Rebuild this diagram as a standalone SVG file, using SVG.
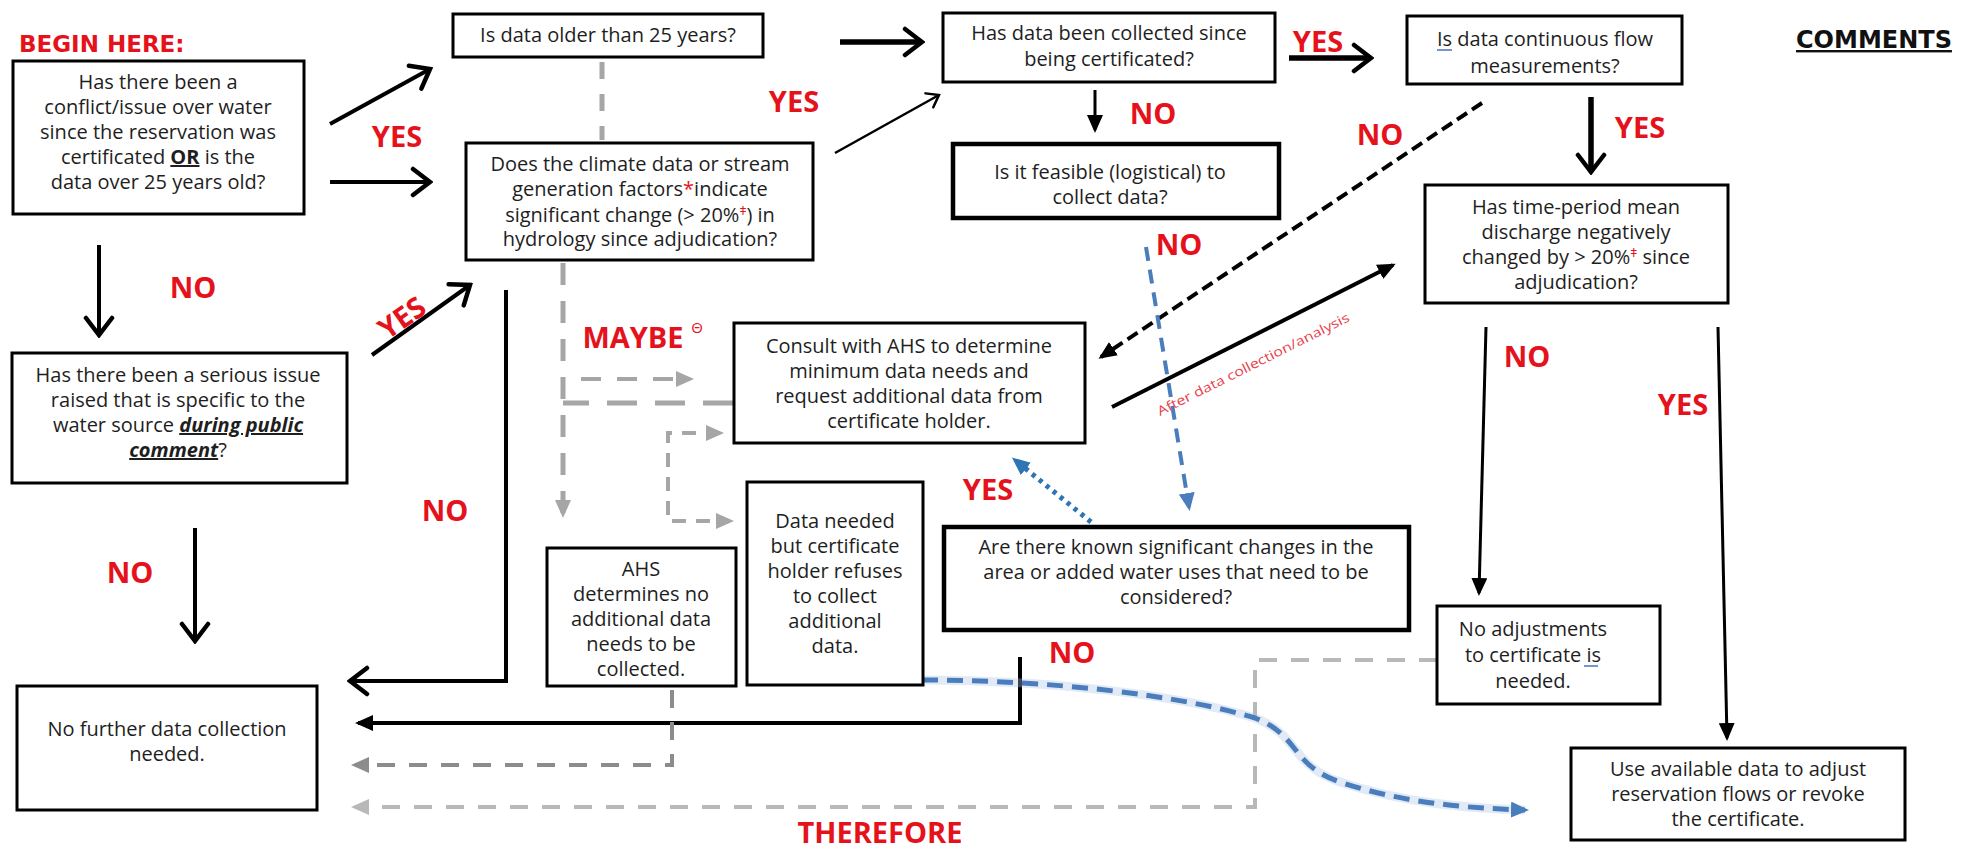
<svg xmlns="http://www.w3.org/2000/svg" width="1975" height="849" viewBox="0 0 1975 849">
<style>
.box{fill:#fff;stroke:#000;stroke-width:3}
.thick{stroke-width:4.5}
.t{font-family:"Open Sans","Liberation Sans",sans-serif;font-size:20px;fill:#1e1e1e;text-anchor:middle}
.lb{font-family:"Open Sans","Liberation Sans",sans-serif;font-weight:bold;font-size:29px;fill:#e5121c;text-anchor:middle}
.k2{stroke:#000;stroke-width:2.5;fill:none}
.k3{stroke:#000;stroke-width:3;fill:none}
.k4{stroke:#000;stroke-width:4;fill:none}
.k5{stroke:#000;stroke-width:5.5;fill:none}
.gm{stroke:#a6a6a6;fill:none}
.sup{font-size:12px;fill:#e5121c}
</style>
<defs>
<marker id="chev" viewBox="0 0 24 32" refX="21" refY="16" markerWidth="24" markerHeight="32" orient="auto" markerUnits="userSpaceOnUse"><path d="M4,3 L21,16 L4,29" fill="none" stroke="#000" stroke-width="4.5" stroke-linecap="round"/></marker>
<marker id="chevS" viewBox="0 0 16 20" refX="14" refY="10" markerWidth="16" markerHeight="20" orient="auto" markerUnits="userSpaceOnUse"><path d="M3,2 L14,10 L3,18" fill="none" stroke="#000" stroke-width="2.5" stroke-linecap="round"/></marker>
<marker id="tri" viewBox="0 0 18 16" refX="15" refY="8" markerWidth="18" markerHeight="16" orient="auto" markerUnits="userSpaceOnUse"><path d="M0,0 L18,8 L0,16 z" fill="#000"/></marker>
<marker id="triM" viewBox="0 0 18 16" refX="14" refY="8" markerWidth="18" markerHeight="16" orient="auto-start-reverse" markerUnits="userSpaceOnUse"><path d="M0,0 L18,8 L0,16 z" fill="#a6a6a6"/></marker>
<marker id="triG" viewBox="0 0 18 16" refX="14" refY="8" markerWidth="18" markerHeight="16" orient="auto" markerUnits="userSpaceOnUse"><path d="M0,0 L18,8 L0,16 z" fill="#8c8c8c"/></marker>
<marker id="triLG" viewBox="0 0 18 16" refX="14" refY="8" markerWidth="18" markerHeight="16" orient="auto" markerUnits="userSpaceOnUse"><path d="M0,0 L18,8 L0,16 z" fill="#b8b8b8"/></marker>
<marker id="triB" viewBox="0 0 18 16" refX="14" refY="8" markerWidth="18" markerHeight="16" orient="auto" markerUnits="userSpaceOnUse"><path d="M0,0 L18,8 L0,16 z" fill="#4a7dbb"/></marker>
<marker id="triBD" viewBox="0 0 18 16" refX="14" refY="8" markerWidth="18" markerHeight="16" orient="auto" markerUnits="userSpaceOnUse"><path d="M0,0 L18,8 L0,16 z" fill="#2e75b6"/></marker>
</defs>
<rect width="1975" height="849" fill="#fff"/>

<g id="connectors">
<line x1="330" y1="124" x2="430" y2="69" class="k4" marker-end="url(#chev)"/>
<line x1="330" y1="182" x2="430" y2="182" class="k4" marker-end="url(#chev)"/>
<line x1="99" y1="245" x2="99" y2="335" class="k4" marker-end="url(#chev)"/>
<line x1="372" y1="355" x2="470" y2="285" class="k4" marker-end="url(#chev)"/>
<line x1="195" y1="528" x2="195" y2="641" class="k4" marker-end="url(#chev)"/>
<path d="M506,290 V681 H350" class="k4" marker-end="url(#chev)"/>
<path d="M1020,657 V723 H358" class="k4" marker-end="url(#tri)"/>
<line x1="840" y1="42" x2="922" y2="42" class="k5" marker-end="url(#chev)"/>
<line x1="835" y1="153" x2="939" y2="95" class="k2" marker-end="url(#chevS)"/>
<line x1="1095" y1="90" x2="1095" y2="130" class="k3" marker-end="url(#tri)"/>
<line x1="1289" y1="58" x2="1371" y2="58" class="k5" marker-end="url(#chev)"/>
<line x1="1591" y1="97" x2="1591" y2="172" class="k5" marker-end="url(#chev)"/>
<line x1="1482" y1="103" x2="1101" y2="357" class="k4" stroke-dasharray="12 6" marker-end="url(#tri)"/>
<line x1="1112" y1="407" x2="1393" y2="265" class="k4" marker-end="url(#tri)"/>
<line x1="1486" y1="327" x2="1479" y2="593" class="k3" marker-end="url(#tri)"/>
<line x1="1718" y1="327" x2="1727" y2="738" class="k3" marker-end="url(#tri)"/>

<line x1="602" y1="62" x2="602" y2="140" class="gm" stroke-width="5" stroke-dasharray="17 15"/>
<path d="M563,263 V514" class="gm" stroke-width="5" stroke-dasharray="22 16" marker-end="url(#triM)"/>
<line x1="581" y1="379" x2="690" y2="379" class="gm" stroke-width="4" stroke-dasharray="20 16" marker-end="url(#triM)"/>
<line x1="733" y1="403" x2="563" y2="403" class="gm" stroke-width="5" stroke-dasharray="30 18"/>
<path d="M720,433 H668 V521 H730" class="gm" stroke-width="4" stroke-dasharray="14 10" marker-start="url(#triM)" marker-end="url(#triM)"/>
<path d="M672,690 V765 H355" stroke="#8c8c8c" stroke-width="4" fill="none" stroke-dasharray="18 14" marker-end="url(#triG)"/>
<path d="M1437,660 H1255 V807 H355" stroke="#b8b8b8" stroke-width="4" fill="none" stroke-dasharray="18 14" marker-end="url(#triLG)"/>

<line x1="1146" y1="247" x2="1189" y2="507" stroke="#4a7dbb" stroke-width="4" stroke-dasharray="14 9" marker-end="url(#triB)"/>
<line x1="1091" y1="522" x2="1015" y2="460" stroke="#2e75b6" stroke-width="5" stroke-dasharray="4 5" marker-end="url(#triBD)"/>
<path d="M922,680 C1050,680 1180,695 1255,718 C1300,735 1290,765 1340,782 C1400,802 1460,808 1525,810" stroke="#a9c4e6" stroke-width="9" fill="none" stroke-opacity="0.35"/>
<path d="M922,680 C1050,680 1180,695 1255,718 C1300,735 1290,765 1340,782 C1400,802 1460,808 1525,810" stroke="#4a7dbb" stroke-width="5" fill="none" stroke-dasharray="16 9" marker-end="url(#triB)"/>
</g>

<g id="n1">
<rect x="13" y="61" width="291" height="153" class="box"/>
<text class="t" x="158" y="89">Has there been a</text>
<text class="t" x="158" y="114">conflict/issue over water</text>
<text class="t" x="158" y="139">since the reservation was</text>
<text class="t" x="158" y="164">certificated <tspan font-weight="bold" text-decoration="underline">OR</tspan> is the</text>
<text class="t" x="158" y="189">data over 25 years old?</text>
</g>
<g id="n2">
<rect x="453" y="14" width="310" height="43" class="box"/>
<text class="t" x="608" y="42">Is data older than 25 years?</text>
</g>
<g id="n3">
<rect x="466" y="143" width="347" height="117" class="box"/>
<text class="t" x="640" y="171">Does the climate data or stream</text>
<text class="t" x="640" y="196">generation factors<tspan fill="#e5121c">*</tspan>indicate</text>
<text class="t" x="640" y="222">significant change (&gt; 20%<tspan class="sup" dy="-7">ǂ</tspan><tspan dy="7">) in</tspan></text>
<text class="t" x="640" y="246">hydrology since adjudication?</text>
</g>
<g id="n4">
<rect x="943" y="13" width="332" height="69" class="box"/>
<text class="t" x="1109" y="40">Has data been collected since</text>
<text class="t" x="1109" y="66">being certificated?</text>
</g>
<g id="n5">
<rect x="953" y="144" width="326" height="74" class="box thick"/>
<text class="t" x="1110" y="179">Is it feasible (logistical) to</text>
<text class="t" x="1110" y="204">collect data?</text>
</g>
<g id="n6">
<rect x="1407" y="16" width="275" height="68" class="box"/>
<text class="t" x="1545" y="46">Is data continuous flow</text>
<line x1="1437" y1="50" x2="1452" y2="50" stroke="#4a6fc4" stroke-width="1.5"/>
<text class="t" x="1545" y="73">measurements?</text>
</g>
<g id="n7">
<rect x="1425" y="185" width="303" height="118" class="box"/>
<text class="t" x="1576" y="214">Has time-period mean</text>
<text class="t" x="1576" y="239">discharge negatively</text>
<text class="t" x="1576" y="264">changed by &gt; 20%<tspan class="sup" dy="-7">ǂ</tspan><tspan dy="7"> since</tspan></text>
<text class="t" x="1576" y="289">adjudication?</text>
</g>
<g id="n8">
<rect x="734" y="323" width="351" height="120" class="box"/>
<text class="t" x="909" y="353">Consult with AHS to determine</text>
<text class="t" x="909" y="378">minimum data needs and</text>
<text class="t" x="909" y="403">request additional data from</text>
<text class="t" x="909" y="428">certificate holder.</text>
</g>
<g id="n9">
<rect x="747" y="482" width="176" height="203" class="box"/>
<text class="t" x="835" y="528">Data needed</text>
<text class="t" x="835" y="553">but certificate</text>
<text class="t" x="835" y="578">holder refuses</text>
<text class="t" x="835" y="603">to collect</text>
<text class="t" x="835" y="628">additional</text>
<text class="t" x="835" y="653">data.</text>
</g>
<g id="n10">
<rect x="547" y="548" width="189" height="138" class="box"/>
<text class="t" x="641" y="576">AHS</text>
<text class="t" x="641" y="601">determines no</text>
<text class="t" x="641" y="626">additional data</text>
<text class="t" x="641" y="651">needs to be</text>
<text class="t" x="641" y="676">collected.</text>
</g>
<g id="n11">
<rect x="944" y="527" width="465" height="103" class="box thick"/>
<text class="t" x="1176" y="554">Are there known significant changes in the</text>
<text class="t" x="1176" y="579">area or added water uses that need to be</text>
<text class="t" x="1176" y="604">considered?</text>
</g>
<g id="n12">
<rect x="1437" y="606" width="223" height="98" class="box"/>
<text class="t" x="1533" y="636" font-size="19">No adjustments</text>
<text class="t" x="1533" y="662" font-size="19">to certificate is</text>
<line x1="1584" y1="666" x2="1598" y2="666" stroke="#4a6fc4" stroke-width="1.5"/>
<text class="t" x="1533" y="688" font-size="19">needed.</text>
</g>
<g id="n13">
<rect x="1571" y="748" width="334" height="92" class="box"/>
<text class="t" x="1738" y="776">Use available data to adjust</text>
<text class="t" x="1738" y="801">reservation flows or revoke</text>
<text class="t" x="1738" y="826">the certificate.</text>
</g>
<g id="n14">
<rect x="12" y="353" width="335" height="130" class="box"/>
<text class="t" x="178" y="382">Has there been a serious issue</text>
<text class="t" x="178" y="407">raised that is specific to the</text>
<text class="t" x="178" y="432">water source <tspan font-weight="bold" font-style="italic" text-decoration="underline">during public</tspan></text>
<text class="t" x="178" y="457"><tspan font-weight="bold" font-style="italic" text-decoration="underline">comment</tspan>?</text>
</g>
<g id="n15">
<rect x="17" y="686" width="300" height="124" class="box"/>
<text class="t" x="167" y="736">No further data collection</text>
<text class="t" x="167" y="761">needed.</text>
</g>

<g id="labels">
<text x="19" y="52" font-family="'DejaVu Sans',Verdana,sans-serif" font-weight="bold" font-size="23" fill="#e5121c">BEGIN HERE:</text>
<text x="1796" y="48" font-family="'DejaVu Sans',Verdana,sans-serif" font-weight="bold" font-size="24" fill="#111" text-decoration="underline">COMMENTS</text>
<text class="lb" x="397" y="147">YES</text>
<text class="lb" x="193" y="298">NO</text>
<text class="lb" x="402" y="328" transform="rotate(-35 402 318)">YES</text>
<text class="lb" x="130" y="583">NO</text>
<text class="lb" x="445" y="521">NO</text>
<text class="lb" x="794" y="112">YES</text>
<text class="lb" x="633" y="348" font-size="30">MAYBE</text>
<text x="697" y="333" font-family="'Open Sans',sans-serif" font-size="15" fill="#e5121c" text-anchor="middle">Θ</text>
<text class="lb" x="1318" y="52">YES</text>
<text class="lb" x="1380" y="145">NO</text>
<text class="lb" x="1640" y="138">YES</text>
<text class="lb" x="1527" y="367">NO</text>
<text class="lb" x="1683" y="415">YES</text>
<text class="lb" x="880" y="843" font-size="30">THEREFORE</text>
<text class="lb" x="1153" y="124" font-size="20">NO</text>
<text class="lb" x="1179" y="255" font-size="20">NO</text>
<text class="lb" x="988" y="500" font-size="20">YES</text>
<text class="lb" x="1072" y="663" font-size="28">NO</text>
<text x="1160" y="416" transform="rotate(-26.6 1160 416)" font-family="'Open Sans',sans-serif" font-size="13" fill="#e8404a" textLength="213" lengthAdjust="spacingAndGlyphs">After data collection/analysis</text>
</g>
</svg>
